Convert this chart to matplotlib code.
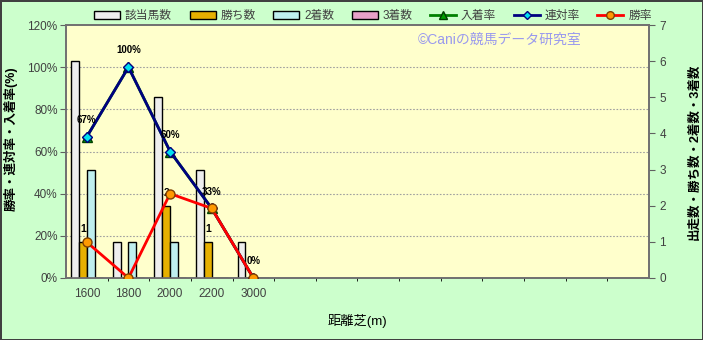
import numpy as np
import matplotlib
matplotlib.use('Agg')
from matplotlib import pyplot as plt
from matplotlib.lines import Line2D
from matplotlib.patches import Patch

plt.rcParams['font.family'] = ['Liberation Sans', 'Noto Sans CJK JP', 'DejaVu Sans']

# data
distances = ['1600', '1800', '2000', '2200', '3000']
n_slots = 14  # empty category slots on the axis
runners = [6, 1, 5, 3, 1]      # 該当馬数
wins = [1, 0, 2, 1, 0]         # 勝ち数
seconds = [3, 1, 1, 0, 0]      # 2着数
thirds = [0, 0, 0, 0, 0]       # 3着数
place_rate = [67, 100, 60, 33, 0]   # 入着率
rentai_rate = [67, 100, 60, 33, 0]  # 連対率
win_rate = [17, 0, 40, 33, 0]       # 勝率

BG = '#CCFFCC'
PLOT_BG = '#FFFFCC'
TICK_C = '#404040'

fig = plt.figure(figsize=(7.03, 3.40), dpi=100, facecolor=BG)
fig.patch.set_edgecolor('#404040')
fig.patch.set_linewidth(2)
ax = fig.add_axes([66/703, 62/340, 583/703, 253/340])
ax2 = ax.twinx()

# percent lines on top, bars underneath
ax.set_zorder(ax2.get_zorder() + 1)
ax.patch.set_visible(False)
ax2.patch.set_visible(True)
ax2.set_facecolor(PLOT_BG)

x = np.arange(len(distances))
w = 0.19
bar_sets = [
    (runners, '#EEEEEE', '該当馬数'),
    (wins, '#E6B000', '勝ち数'),
    (seconds, '#BFEFEF', '2着数'),
    (thirds, '#E8A0C8', '3着数'),
]
for k, (vals, col, lab) in enumerate(bar_sets):
    ax2.bar(x + (k - 1.5) * w, vals, width=w, color=col, edgecolor='black',
            linewidth=1.0, zorder=3)

# bar labels on 勝ち数
for i, v in enumerate(wins):
    if v > 0:
        ax2.annotate(str(v), (x[i] - 0.5 * w, v), xytext=(0, 9.5), textcoords='offset points',
                     ha='center', va='center', fontsize=7.5, fontweight='bold', zorder=4)

ax2.set_ylim(0, 7)
ax2.set_yticks(range(0, 8))
ax2.set_yticks(np.arange(1, 6) * 7 / 6, minor=True)
ax2.set_xticks(np.arange(n_slots - 1) + 0.5, minor=True)
ax2.grid(which='minor', color='#A0A0A0', linestyle=(0, (1.5, 1.5)), linewidth=0.8)
ax2.set_axisbelow(True)
ax2.tick_params(axis='y', which='minor', length=0)
ax2.tick_params(axis='x', which='minor', length=4, color='#606060', direction='in')
ax2.tick_params(axis='y', which='major', colors=TICK_C, labelsize=8.5, length=4, direction='out')
ax2.tick_params(axis='y', which='major', color='#606060')
ax2.set_ylabel('出走数・勝ち数・2着数・3着数', fontsize=9, fontweight='bold')
ax2.yaxis.set_label_coords((688 - 66) / 583, 0.5)

ax.plot(x, place_rate, color='#008000', linewidth=2, marker='^', markersize=7,
        markerfacecolor='#00A000', markeredgecolor='#004000', zorder=3)
ax.plot(x, rentai_rate, color='#000080', linewidth=2, marker='D', markersize=5.5,
        markerfacecolor='#00E0F0', markeredgecolor='#000080', zorder=4)
ax.plot(x, win_rate, color='#FF0000', linewidth=2, marker='o', markersize=6.5,
        markerfacecolor='#FF9900', markeredgecolor='#804000', zorder=5)
for i, v in enumerate(place_rate):
    ax.annotate('%d%%' % v, (x[i], v), xytext=(0, 12), textcoords='offset points',
                ha='center', va='center', fontsize=7, fontweight='bold', zorder=6)

ax.set_xlim(-0.5, n_slots - 0.5)
ax.set_ylim(0, 120)
ax.set_yticks(range(0, 121, 20))
ax.set_yticklabels(['%d%%' % t for t in range(0, 121, 20)])
ax.set_xticks(x)
ax.set_xticklabels(distances)
ax.tick_params(axis='y', colors=TICK_C, labelsize=8.5, length=4, color='#606060', pad=2)
ax.tick_params(axis='x', colors=TICK_C, labelsize=8.5, length=0, pad=7)
ax.set_ylabel('勝率・連対率・入着率(%)', fontsize=9, fontweight='bold')
ax.yaxis.set_label_coords((18 - 66) / 583, 0.55)
ax.set_xlabel('距離芝(m)', fontsize=9.5, labelpad=10)

for a in (ax, ax2):
    for s in a.spines.values():
        s.set_color('#707070')
        s.set_linewidth(1.2)

fig.text(500/703, 1 - 40/340, '©Caniの競馬データ研究室', color='#9999EE', fontsize=10,
         ha='center', va='center')

handles = [Patch(facecolor=c, edgecolor='black', linewidth=1.0, label=l) for _, c, l in bar_sets]
handles += [
    Line2D([], [], color='#008000', linewidth=2, marker='^', markersize=6,
           markerfacecolor='#00A000', markeredgecolor='#004000', label='入着率'),
    Line2D([], [], color='#000080', linewidth=2, marker='D', markersize=4.5,
           markerfacecolor='#00E0F0', markeredgecolor='#000080', label='連対率'),
    Line2D([], [], color='#FF0000', linewidth=2, marker='o', markersize=5.5,
           markerfacecolor='#FF9900', markeredgecolor='#804000', label='勝率'),
]
fig.legend(handles=handles, loc='center', bbox_to_anchor=(373/703, 1 - 16/340), ncol=7,
           frameon=False, fontsize=8.5, handlelength=2.2, handleheight=0.6,
           handletextpad=0.4, columnspacing=1.5, labelcolor=TICK_C)

fig.savefig('out.png', dpi=100, facecolor=BG, edgecolor='#404040')
